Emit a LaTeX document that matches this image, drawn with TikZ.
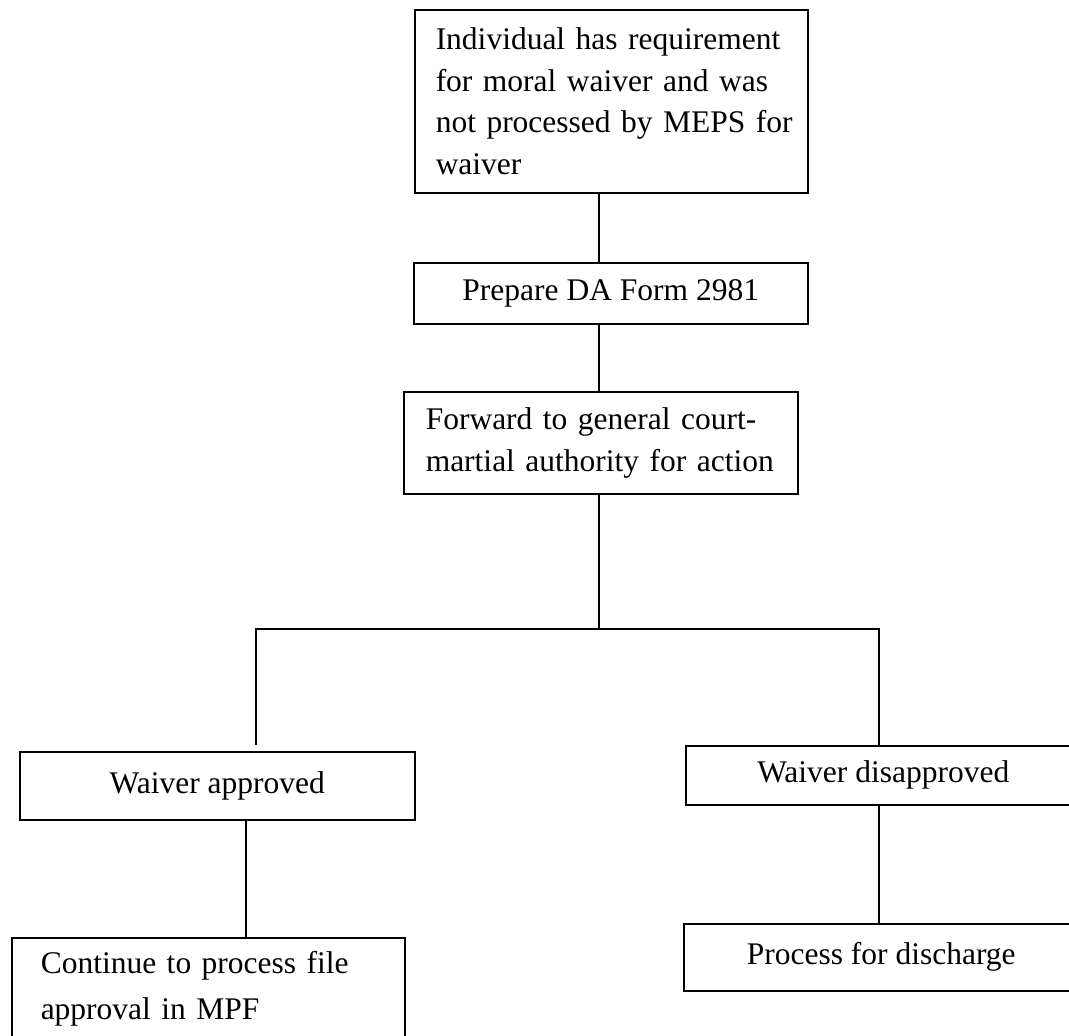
\documentclass[tikz,border=0pt]{standalone}
\usepackage{fontspec}
\setmainfont{Liberation Serif}
\begin{document}
\begin{tikzpicture}[x=1pt,y=-1pt,
  box/.style={draw, line width=1.5pt, rectangle, inner sep=0pt, anchor=north west,
    font=\fontsize{31.5}{41.5}\selectfont},
  conn/.style={line width=1.5pt}]
\clip (0,0) rectangle (1069,1036);
\fill[white] (0,0) rectangle (1069,1036);

\node[box, minimum width=393pt, minimum height=183pt, text width=351pt, align=left] (A) at (414,9)
  {\mbox{Individual has requirement}\\\mbox{for moral waiver and was}\\\mbox{not processed by MEPS for}\\\mbox{waiver}};
\node[box, minimum width=394pt, minimum height=61pt] (B) at (413,262) {Prepare DA Form 2981};
\node[box, minimum width=394pt, minimum height=102pt, text width=350pt, align=left] (C) at (403,391)
  {\mbox{Forward to general court-}\\\mbox{martial authority for action}};
\node[box, minimum width=395pt, minimum height=68pt] (D) at (19,751) {Waiver approved};
\node[box, minimum width=395pt, minimum height=59pt] (E) at (685,745) {Waiver disapproved};
\node[box, minimum width=393pt, minimum height=102pt, text width=335pt, align=left,
  font=\fontsize{31.5}{46}\selectfont] (G) at (11,937)
  {\mbox{Continue to process file}\\\mbox{approval in MPF}};
\node[box, minimum width=395pt, minimum height=67pt] (F) at (683,923) {Process for discharge};

\coordinate (j) at (599,629);
\coordinate (jl) at (256,629);
\coordinate (jr) at (879,629);
\coordinate (l2) at (246,0);

\draw[conn] (A.south -| j) -- (B.north -| j);
\draw[conn] (B.south -| j) -- (C.north -| j);
\draw[conn] (C.south -| j) -- (j);
\draw[conn, shorten <=6pt] (D.north -| jl) -- (jl) -- (jr) -- (E.north -| jr);
\draw[conn] (D.south -| l2) -- (G.north -| l2);
\draw[conn] (E.south -| jr) -- (F.north -| jr);
\end{tikzpicture}
\end{document}
